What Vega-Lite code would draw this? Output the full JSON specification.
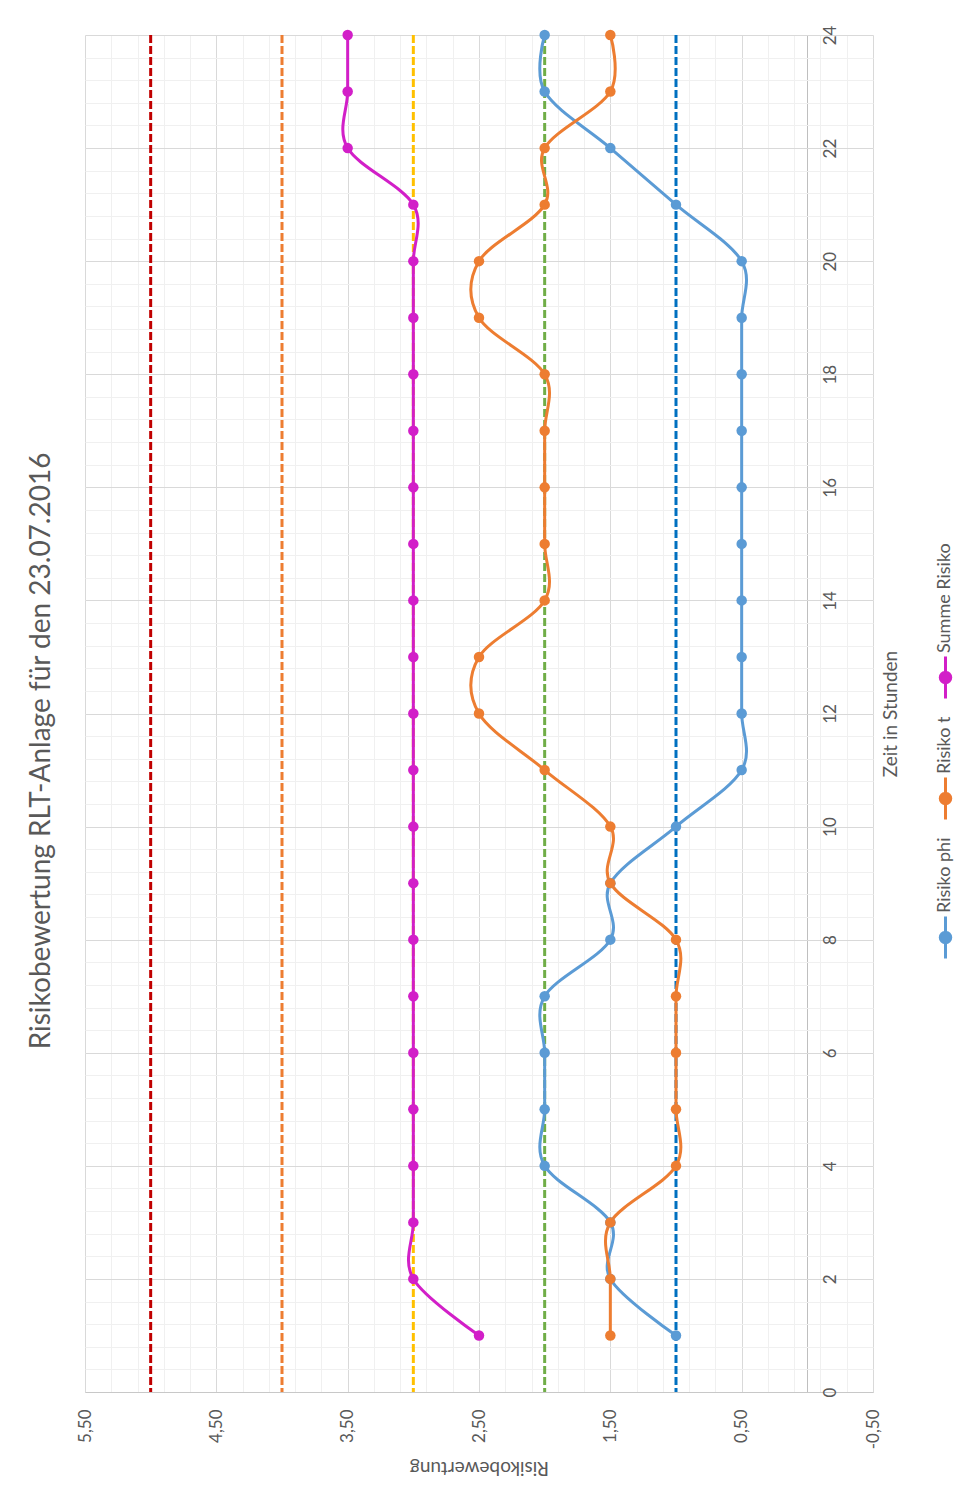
{
  "$schema": "https://vega.github.io/schema/vega-lite/v6.json",
  "autosize": {"type": "none"},
  "width": 788,
  "height": 1357,
  "padding": {"left": 85, "top": 35, "right": 99, "bottom": 112},
  "background": "white",
  "title": {
    "text": "Risikobewertung RLT-Anlage für den 23.07.2016",
    "orient": "left",
    "anchor": "middle",
    "frame": "bounds",
    "fontSize": 28,
    "font": "Lato",
    "fontWeight": "normal",
    "color": "#595959",
    "offset": 20
  },
  "config": {
    "font": "Lato",
    "view": {"stroke": null},
    "axis": {"labelFont": "Lato", "titleFont": "Lato", "labelColor": "#595959", "titleColor": "#595959", "titleFontWeight": "normal"}
  },
  "datasets": {
    "thresholds": [
      {"level": 5}, {"level": 4}, {"level": 3}, {"level": 2}, {"level": 1}
    ],
    "series": [
      {"hour": 1, "series": "Risiko phi", "risk": 1.0},
      {"hour": 2, "series": "Risiko phi", "risk": 1.5},
      {"hour": 3, "series": "Risiko phi", "risk": 1.5},
      {"hour": 4, "series": "Risiko phi", "risk": 2.0},
      {"hour": 5, "series": "Risiko phi", "risk": 2.0},
      {"hour": 6, "series": "Risiko phi", "risk": 2.0},
      {"hour": 7, "series": "Risiko phi", "risk": 2.0},
      {"hour": 8, "series": "Risiko phi", "risk": 1.5},
      {"hour": 9, "series": "Risiko phi", "risk": 1.5},
      {"hour": 10, "series": "Risiko phi", "risk": 1.0},
      {"hour": 11, "series": "Risiko phi", "risk": 0.5},
      {"hour": 12, "series": "Risiko phi", "risk": 0.5},
      {"hour": 13, "series": "Risiko phi", "risk": 0.5},
      {"hour": 14, "series": "Risiko phi", "risk": 0.5},
      {"hour": 15, "series": "Risiko phi", "risk": 0.5},
      {"hour": 16, "series": "Risiko phi", "risk": 0.5},
      {"hour": 17, "series": "Risiko phi", "risk": 0.5},
      {"hour": 18, "series": "Risiko phi", "risk": 0.5},
      {"hour": 19, "series": "Risiko phi", "risk": 0.5},
      {"hour": 20, "series": "Risiko phi", "risk": 0.5},
      {"hour": 21, "series": "Risiko phi", "risk": 1.0},
      {"hour": 22, "series": "Risiko phi", "risk": 1.5},
      {"hour": 23, "series": "Risiko phi", "risk": 2.0},
      {"hour": 24, "series": "Risiko phi", "risk": 2.0},
      {"hour": 1, "series": "Risiko t", "risk": 1.5},
      {"hour": 2, "series": "Risiko t", "risk": 1.5},
      {"hour": 3, "series": "Risiko t", "risk": 1.5},
      {"hour": 4, "series": "Risiko t", "risk": 1.0},
      {"hour": 5, "series": "Risiko t", "risk": 1.0},
      {"hour": 6, "series": "Risiko t", "risk": 1.0},
      {"hour": 7, "series": "Risiko t", "risk": 1.0},
      {"hour": 8, "series": "Risiko t", "risk": 1.0},
      {"hour": 9, "series": "Risiko t", "risk": 1.5},
      {"hour": 10, "series": "Risiko t", "risk": 1.5},
      {"hour": 11, "series": "Risiko t", "risk": 2.0},
      {"hour": 12, "series": "Risiko t", "risk": 2.5},
      {"hour": 13, "series": "Risiko t", "risk": 2.5},
      {"hour": 14, "series": "Risiko t", "risk": 2.0},
      {"hour": 15, "series": "Risiko t", "risk": 2.0},
      {"hour": 16, "series": "Risiko t", "risk": 2.0},
      {"hour": 17, "series": "Risiko t", "risk": 2.0},
      {"hour": 18, "series": "Risiko t", "risk": 2.0},
      {"hour": 19, "series": "Risiko t", "risk": 2.5},
      {"hour": 20, "series": "Risiko t", "risk": 2.5},
      {"hour": 21, "series": "Risiko t", "risk": 2.0},
      {"hour": 22, "series": "Risiko t", "risk": 2.0},
      {"hour": 23, "series": "Risiko t", "risk": 1.5},
      {"hour": 24, "series": "Risiko t", "risk": 1.5},
      {"hour": 1, "series": "Summe Risiko", "risk": 2.5},
      {"hour": 2, "series": "Summe Risiko", "risk": 3.0},
      {"hour": 3, "series": "Summe Risiko", "risk": 3.0},
      {"hour": 4, "series": "Summe Risiko", "risk": 3.0},
      {"hour": 5, "series": "Summe Risiko", "risk": 3.0},
      {"hour": 6, "series": "Summe Risiko", "risk": 3.0},
      {"hour": 7, "series": "Summe Risiko", "risk": 3.0},
      {"hour": 8, "series": "Summe Risiko", "risk": 3.0},
      {"hour": 9, "series": "Summe Risiko", "risk": 3.0},
      {"hour": 10, "series": "Summe Risiko", "risk": 3.0},
      {"hour": 11, "series": "Summe Risiko", "risk": 3.0},
      {"hour": 12, "series": "Summe Risiko", "risk": 3.0},
      {"hour": 13, "series": "Summe Risiko", "risk": 3.0},
      {"hour": 14, "series": "Summe Risiko", "risk": 3.0},
      {"hour": 15, "series": "Summe Risiko", "risk": 3.0},
      {"hour": 16, "series": "Summe Risiko", "risk": 3.0},
      {"hour": 17, "series": "Summe Risiko", "risk": 3.0},
      {"hour": 18, "series": "Summe Risiko", "risk": 3.0},
      {"hour": 19, "series": "Summe Risiko", "risk": 3.0},
      {"hour": 20, "series": "Summe Risiko", "risk": 3.0},
      {"hour": 21, "series": "Summe Risiko", "risk": 3.0},
      {"hour": 22, "series": "Summe Risiko", "risk": 3.5},
      {"hour": 23, "series": "Summe Risiko", "risk": 3.5},
      {"hour": 24, "series": "Summe Risiko", "risk": 3.5}
    ]
  },
  "resolve": {"axis": {"x": "independent", "y": "independent"}},
  "layer": [
    {
      "data": {"name": "thresholds"},
      "mark": {"type": "rule", "strokeWidth": 3, "strokeDash": [8, 3]},
      "encoding": {
        "x": {
          "field": "level",
          "type": "quantitative",
          "scale": {"domain": [-0.5, 5.5], "reverse": true, "nice": false, "zero": false},
          "axis": {
            "orient": "bottom",
            "values": [-0.5, -0.3, -0.1, 0, 0.1, 0.3, 0.5, 0.7, 0.9, 1.1, 1.3, 1.5, 1.7, 1.9, 2.1, 2.3, 2.5, 2.7, 2.9, 3.1, 3.3, 3.5, 3.7, 3.9, 4.1, 4.3, 4.5, 4.7, 4.9, 5.1, 5.3, 5.5],
            "grid": true,
            "gridColor": {"condition": {"test": "datum.value === 0", "value": "#BFBFBF"}, "value": "#F0F0F0"},
            "gridWidth": 1,
            "labels": false,
            "ticks": false,
            "domain": false,
            "title": null
          }
        },
        "stroke": {
          "field": "level",
          "type": "ordinal",
          "scale": {"domain": [5, 4, 3, 2, 1], "range": ["#C00000", "#ED7D31", "#FFC000", "#70AD47", "#0070C0"]},
          "legend": null
        }
      }
    },
    {
      "data": {"name": "series"},
      "mark": {"type": "line", "interpolate": "cardinal", "strokeWidth": 3},
      "encoding": {
        "x": {
          "field": "risk",
          "type": "quantitative",
          "axis": {
            "orient": "bottom",
            "values": [-0.5, 0.5, 1.5, 2.5, 3.5, 4.5, 5.5],
            "grid": true,
            "gridColor": "#D9D9D9",
            "labelExpr": "replace(replace(format(datum.value, '.2f'), '.', ','), '\u2212', '-')",
            "labelAngle": -90,
            "labelAlign": "right",
            "labelBaseline": "middle",
            "labelPadding": 17,
            "labelFontSize": 17,
            "labelFlush": false,
            "labelOverlap": false,
            "ticks": false,
            "domain": true,
            "domainColor": "#C8C8C8",
            "title": "Risikobewertung",
            "titleAngle": 180,
            "titleBaseline": "bottom",
            "titlePadding": 9,
            "titleFontSize": 19
          }
        },
        "y": {
          "field": "hour",
          "type": "quantitative",
          "scale": {"domain": [0, 24], "nice": false, "zero": false},
          "axis": {
            "orient": "left",
            "values": [0, 0.4, 0.8, 1.2, 1.6, 2, 2.4, 2.8, 3.2, 3.6, 4, 4.4, 4.8, 5.2, 5.6, 6, 6.4, 6.8, 7.2, 7.6, 8, 8.4, 8.8, 9.2, 9.6, 10, 10.4, 10.8, 11.2, 11.6, 12, 12.4, 12.8, 13.2, 13.6, 14, 14.4, 14.8, 15.2, 15.6, 16, 16.4, 16.8, 17.2, 17.6, 18, 18.4, 18.8, 19.2, 19.6, 20, 20.4, 20.8, 21.2, 21.6, 22, 22.4, 22.8, 23.2, 23.6, 24],
            "grid": true,
            "gridColor": "#F0F0F0",
            "labels": false,
            "ticks": false,
            "domain": false,
            "title": null
          }
        },
        "color": {
          "field": "series",
          "type": "nominal",
          "scale": {"domain": ["Summe Risiko", "Risiko t", "Risiko phi"], "range": ["#D21FC8", "#ED7D31", "#5B9BD5"]},
          "legend": {
            "orient": "none",
            "legendX": 838,
            "legendY": 620,
            "title": null,
            "direction": "vertical",
            "labelFontSize": 18,
            "labelColor": "#595959",
            "labelFont": "Lato",
            "rowPadding": 11,
            "symbolType": "M0,-1L0,1M0.25,0A0.25,0.25,0,1,1,-0.25,0A0.25,0.25,0,1,1,0.25,0Z",
            "symbolSize": 1764,
            "symbolStrokeWidth": 3,
            "encode": {
              "symbols": {"update": {"fill": {"scale": "color", "field": "value"}, "stroke": {"scale": "color", "field": "value"}, "opacity": {"value": 1}}},
              "labels": {"update": {"angle": {"value": -90}, "align": {"value": "left"}, "baseline": {"value": "middle"}, "x": {"value": 22}, "y": {"value": -2}}}
            }
          }
        },
        "order": {"field": "hour"}
      }
    },
    {
      "data": {"name": "series"},
      "mark": {"type": "point", "filled": true, "size": 110, "opacity": 1},
      "encoding": {
        "x": {"field": "risk", "type": "quantitative", "axis": null},
        "y": {
          "field": "hour",
          "type": "quantitative",
          "axis": {
            "orient": "right",
            "values": [0, 2, 4, 6, 8, 10, 12, 14, 16, 18, 20, 22, 24],
            "format": "d",
            "grid": true,
            "gridColor": "#D9D9D9",
            "labelAngle": -90,
            "labelAlign": "center",
            "labelBaseline": "top",
            "labelPadding": -51,
            "labelFontSize": 17,
            "labelFlush": false,
            "labelOverlap": false,
            "ticks": false,
            "domain": false,
            "title": "Zeit in Stunden",
            "titleAngle": -90,
            "titleBaseline": "top",
            "titlePadding": 8,
            "titleFontSize": 19
          }
        },
        "color": {
          "field": "series",
          "type": "nominal",
          "scale": {"domain": ["Summe Risiko", "Risiko t", "Risiko phi"], "range": ["#D21FC8", "#ED7D31", "#5B9BD5"]},
          "legend": {
            "orient": "none",
            "legendX": 838,
            "legendY": 620,
            "title": null,
            "direction": "vertical",
            "labelFontSize": 18,
            "labelColor": "#595959",
            "labelFont": "Lato",
            "rowPadding": 11,
            "symbolType": "M0,-1L0,1M0.25,0A0.25,0.25,0,1,1,-0.25,0A0.25,0.25,0,1,1,0.25,0Z",
            "symbolSize": 1764,
            "symbolStrokeWidth": 3,
            "encode": {
              "symbols": {"update": {"fill": {"scale": "color", "field": "value"}, "stroke": {"scale": "color", "field": "value"}, "opacity": {"value": 1}}},
              "labels": {"update": {"angle": {"value": -90}, "align": {"value": "left"}, "baseline": {"value": "middle"}, "x": {"value": 22}, "y": {"value": -2}}}
            }
          }
        }
      }
    }
  ]
}
